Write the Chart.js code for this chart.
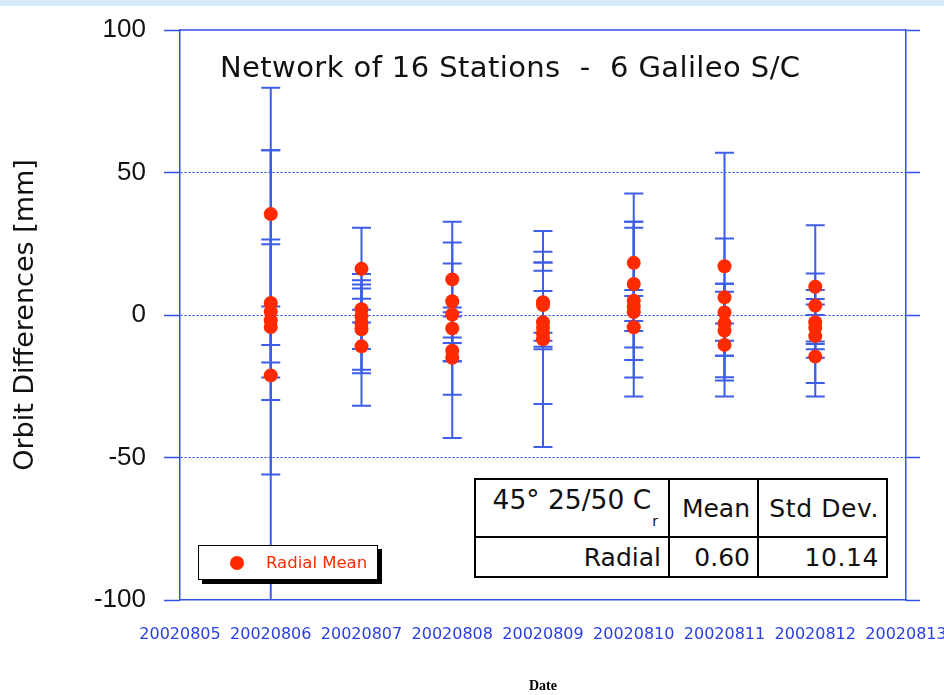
<!DOCTYPE html>
<html>
<head>
<meta charset="utf-8">
<script src="https://cdn.jsdelivr.net/npm/chart.js@4.4.0/dist/chart.umd.min.js"></script>
<style>
    html, body { margin: 0; padding: 0; background: #fff; }
    #wrap { position: relative; width: 944px; height: 695px; overflow: hidden; }
    #wrap canvas { position: absolute; left: 0; top: 0; }
    .band { position: absolute; left: 0; top: 0; width: 944px; height: 6px; background: #d7ebfb; }
    .legend {
        position: absolute; left: 198px; top: 545px; width: 178px; height: 33px;
        background: #fff; border: 1px solid #000; box-shadow: 4px 4px 0 #000;
        font-family: 'DejaVu Sans', sans-serif; font-size: 16.5px; color: #ff2a00;
    }
    .legend .dot { position: absolute; left: 31px; top: 10px; width: 14px; height: 14px; border-radius: 50%; background: #ff2a00; }
    .legend .txt { position: absolute; left: 67px; top: 7px; white-space: nowrap; }
    table.stats {
        position: absolute; left: 474px; top: 478px; border-collapse: collapse;
        font-family: 'DejaVu Sans', sans-serif; font-size: 25px; color: #111; background: #fff;
    }
    table.stats td { border: 2px solid #000; padding: 0 7px; text-align: right; white-space: nowrap; }
    table.stats tr.head td { height: 56px; }
    table.stats tr.body td { height: 38px; }
    table.stats td.c1 { width: 178px; }
    table.stats td.c2 { width: 73px; }
    table.stats td.c3 { width: 113px; letter-spacing: 0.6px; }
    .sub { font-size: 14px; position: relative; top: 17px; left: 1px; }
    .hd { position: relative; top: -9px; font-size: 26.5px; right: 4px; }
</style>
</head>
<body>
<div id="wrap">
    <canvas id="orbitChart" width="944" height="695"></canvas>
    <div class="band"></div>
    <div class="legend"><div class="dot"></div><div class="txt">Radial Mean</div></div>
    <table class="stats">
        <tr class="head">
            <td class="c1"><span class="hd">45° 25/50 C<span class="sub">r</span></span></td>
            <td class="c2">Mean</td>
            <td class="c3">Std Dev.</td>
        </tr>
        <tr class="body">
            <td class="c1">Radial</td>
            <td class="c2">0.60</td>
            <td class="c3">10.14</td>
        </tr>
    </table>
</div>
<script>
// x tick labels (one per day)
const dates = ['20020805', '20020806', '20020807', '20020808', '20020809',
               '20020810', '20020811', '20020812', '20020813'];
// days that carry data (index into dates)
const dayIndex = [1, 2, 3, 4, 5, 6, 7];
const yTicks = [-100, -50, 0, 50, 100];

// radial mean per satellite, one row per day [mm]
const radialMean = [
    [35.4, 4.2, 1.2, -1.8, -4.2, -21.2],
    [16.2, 2.0, -0.5, -3.0, -5.0, -11.0],
    [12.5, 4.8, 0.2, -4.7, -12.5, -15.0],
    [4.5, 3.5, -2.5, -4.5, -6.5, -8.5],
    [18.3, 10.9, 5.0, 3.0, 1.0, -4.3],
    [17.1, 6.2, 0.9, -3.0, -5.5, -10.5],
    [9.9, 3.3, -2.5, -4.5, -7.4, -14.6]
];
// upper end of error bar
const errHigh = [
    [79.7, 57.8, 26.5, 24.8, 3.0, 57.8],
    [30.6, 14.4, 12.2, 10.7, 9.3, 5.7],
    [32.7, 25.4, 18.1, 2.6, 1.0, -0.5],
    [29.5, 22.2, 18.4, 18.4, 15.5, 8.4],
    [42.6, 32.7, 32.7, 30.6, 8.8, 6.7],
    [56.9, 26.8, 11.0, 11.0, 8.2, -9.0],
    [31.5, 14.6, 8.8, 5.6, 3.7, 0.0]
];
// lower end of error bar
const errLow = [
    [-10.5, -56.0, -16.7, -29.8, -21.9, -101.0],
    [1.8, -2.6, -11.9, -19.2, -20.4, -31.8],
    [-7.9, -28.0, -16.1, -9.8, -43.2, -16.3],
    [-12.0, -11.1, -31.2, -6.2, -46.3, -9.0],
    [-5.6, -11.4, -21.9, -15.8, -2.1, -28.6],
    [-21.8, -14.3, -3.0, -14.3, -23.0, -28.6],
    [-9.3, -10.2, -12.0, -23.9, -28.6, -15.0]
];

const AXIS = '#3152e4';
const BAR = '#3d5ee8';
const RED = '#ff2a00';

Chart.defaults.font.family = "'DejaVu Sans', sans-serif";

const points = [];
radialMean.forEach((row, r) => {
    row.forEach(v => points.push({ x: dayIndex[r], y: v }));
});

// vertical error bars with caps, drawn through the chart scales
const errorBars = {
    id: 'errorBars',
    beforeDatasetsDraw(chart) {
        const { ctx, chartArea, scales } = chart;
        ctx.save();
        ctx.beginPath();
        ctx.rect(chartArea.left, chartArea.top, chartArea.width, chartArea.height);
        ctx.clip();
        ctx.strokeStyle = BAR;
        ctx.lineWidth = 2;
        radialMean.forEach((row, r) => {
            const x = scales.x.getPixelForValue(dayIndex[r]);
            row.forEach((v, k) => {
                const yHi = scales.y.getPixelForValue(errHigh[r][k]);
                const yLo = scales.y.getPixelForValue(errLow[r][k]);
                ctx.beginPath();
                ctx.moveTo(x, yHi);
                ctx.lineTo(x, yLo);
                ctx.moveTo(x - 9.5, yHi);
                ctx.lineTo(x + 9.5, yHi);
                ctx.moveTo(x - 9.5, yLo);
                ctx.lineTo(x + 9.5, yLo);
                ctx.stroke();
            });
        });
        ctx.restore();
    }
};

// top frame line and the in-plot title
const frame = {
    id: 'frame',
    afterDraw(chart) {
        const { ctx, chartArea } = chart;
        ctx.save();
        ctx.strokeStyle = AXIS;
        ctx.lineWidth = 1.5;
        ctx.beginPath();
        ctx.moveTo(chartArea.left, chartArea.top);
        ctx.lineTo(chartArea.right, chartArea.top);
        ctx.stroke();
        ctx.fillStyle = '#111';
        ctx.font = "29px 'DejaVu Sans', sans-serif";
        if ('letterSpacing' in ctx) ctx.letterSpacing = '0.4px';
        ctx.textBaseline = 'middle';
        ctx.textAlign = 'left';
        ctx.fillText('Network of 16 Stations  -  6 Galileo S/C', 220, 69);
        ctx.restore();
    }
};

const chart = new Chart(document.getElementById('orbitChart'), {
    type: 'scatter',
    data: {
        datasets: [{
            label: 'Radial Mean',
            data: points,
            pointRadius: 7,
            pointHoverRadius: 7,
            backgroundColor: RED,
            borderWidth: 0
        }]
    },
    options: {
        responsive: false,
        animation: false,
        layout: { padding: { top: 30, left: 0, right: 0, bottom: 0 } },
        plugins: {
            legend: { display: false },
            tooltip: { enabled: false }
        },
        scales: {
            x: {
                type: 'linear',
                min: 0,
                max: dates.length - 1,
                afterBuildTicks: s => { s.ticks = dates.map((d, i) => ({ value: i })); },
                ticks: {
                    autoSkip: false,
                    maxRotation: 0,
                    color: '#2a40e0',
                    font: { size: 16 },
                    padding: 25,
                    callback: v => dates[v]
                },
                grid: { display: false, drawTicks: false, tickLength: 0 },
                border: { display: true, color: AXIS, width: 1.5 },
                title: {
                    display: true,
                    text: 'Date',
                    color: '#000',
                    font: { family: "'Liberation Serif', serif", size: 14, weight: 'bold' },
                    padding: { top: 0, bottom: 0 }
                },
                afterFit: s => { s.height = 95; s.paddingLeft = 0; s.paddingRight = 0; }
            },
            y: {
                min: -100,
                max: 100,
                afterBuildTicks: s => { s.ticks = yTicks.map(v => ({ value: v })); },
                ticks: {
                    color: '#111',
                    font: { family: "'Liberation Sans', sans-serif", size: 26 },
                    padding: 18
                },
                grid: {
                    color: c => (c.tick && Math.abs(c.tick.value) === 100) ? 'rgba(0,0,0,0)' : '#2448e8',
                    lineWidth: 1,
                    tickLength: 16,
                    tickColor: AXIS,
                    tickWidth: 1.5
                },
                border: { display: true, color: AXIS, width: 1.5, dash: [2, 2] },
                title: {
                    display: true,
                    text: 'Orbit Differences [mm]',
                    color: '#111',
                    font: { size: 27 },
                    padding: { top: 10, bottom: 0 }
                },
                afterFit: s => { s.width = 180; s.paddingTop = 0; s.paddingBottom = 0; }
            },
            y2: {
                position: 'right',
                min: -100,
                max: 100,
                afterBuildTicks: s => { s.ticks = yTicks.map(v => ({ value: v })); },
                ticks: { display: false },
                grid: { drawOnChartArea: false, tickLength: 14, tickColor: AXIS, tickWidth: 1.5 },
                border: { display: true, color: AXIS, width: 1.5 },
                afterFit: s => { s.width = 38; s.paddingTop = 0; s.paddingBottom = 0; }
            }
        }
    },
    plugins: [errorBars, frame]
});
</script>
</body>
</html>
